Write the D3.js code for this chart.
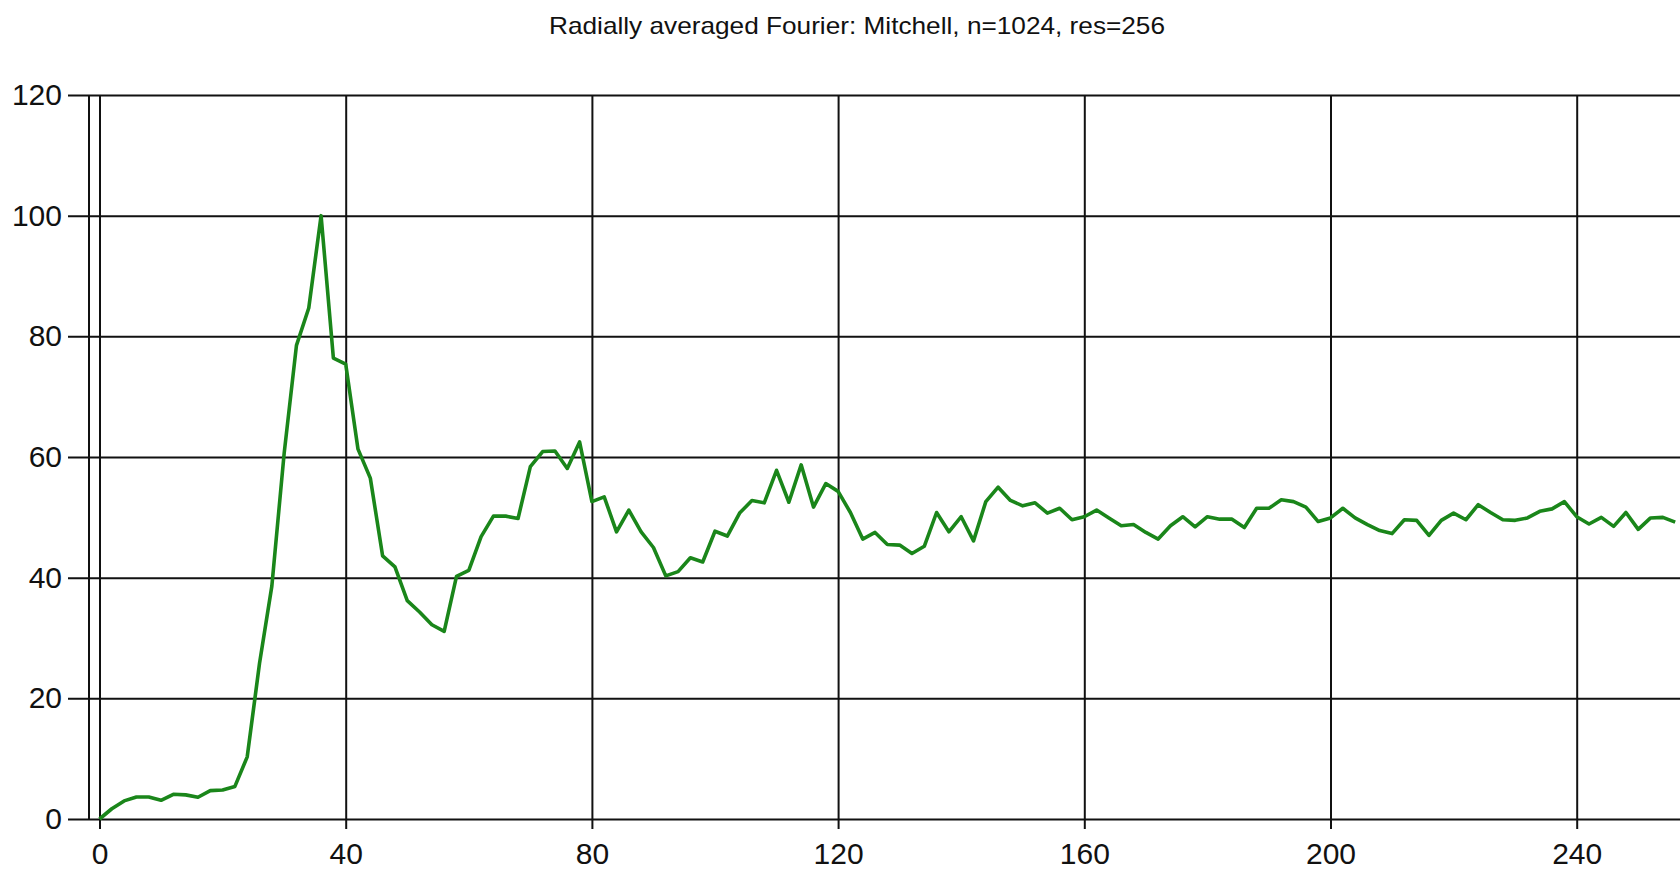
<!DOCTYPE html>
<html>
<head>
<meta charset="utf-8">
<script src="https://cdn.jsdelivr.net/npm/d3@7"></script>
<style>
  html, body { margin: 0; padding: 0; background: #fff; }
  svg { display: block; font-family: "Liberation Sans", Arial, sans-serif; }
</style>
</head>
<body>
<div id="chart"></div>
<script>
const title = "Radially averaged Fourier: Mitchell, n=1024, res=256";

// radius (frequency bin), step 2
const freq = d3.range(0, 257, 2);
// radially averaged power
const power = [
  0, 1.7, 3.0, 3.65, 3.65, 3.1, 4.1, 4.0, 3.6, 4.7,
  4.8, 5.4, 10.3, 25.8, 38.6, 60.6, 78.5, 84.7, 100, 76.4,
  75.4, 61.3, 56.5, 43.6, 41.8, 36.2, 34.3, 32.2, 31.1, 40.2,
  41.2, 46.8, 50.2, 50.2, 49.8, 58.4, 60.9, 61.0, 58.1, 62.5,
  52.6, 53.4, 47.6, 51.2, 47.6, 45.0, 40.3, 41.0, 43.3, 42.6,
  47.7, 46.9, 50.7, 52.8, 52.4, 57.8, 52.5, 58.7, 51.7, 55.6,
  54.3, 50.8, 46.4, 47.5, 45.5, 45.4, 44.0, 45.2, 50.8, 47.6,
  50.1, 46.1, 52.6, 55.0, 52.8, 51.9, 52.4, 50.7, 51.5, 49.6,
  50.1, 51.2, 49.9, 48.6, 48.8, 47.5, 46.4, 48.6, 50.1, 48.4,
  50.1, 49.7, 49.7, 48.3, 51.5, 51.5, 52.9, 52.6, 51.7, 49.3,
  49.9, 51.5, 49.9, 48.8, 47.8, 47.3, 49.6, 49.5, 47.0, 49.5,
  50.7, 49.6, 52.1, 50.8, 49.6, 49.5, 49.9, 51.0, 51.4, 52.6,
  50.1, 48.9, 50.0, 48.5, 50.8, 48.0, 49.9, 50.0, 49.2
];

const xTicks = [0, 40, 80, 120, 160, 200, 240];
const yTicks = [0, 20, 40, 60, 80, 100, 120];

const data = freq.map((f, i) => ({ f: f, p: power[i] }));

const width = 1680;
const height = 870;
const margin = { top: 95, right: 0, bottom: 51, left: 89 };

const x = d3.scaleLinear()
  .domain([0, 240])
  .range([99.5, 1576.7]);

const y = d3.scaleLinear()
  .domain([0, 120])
  .range([height - margin.bottom, margin.top]);

const svg = d3.select("#chart")
  .append("svg")
  .attr("width", width)
  .attr("height", height);

svg.append("text")
  .attr("x", 857)
  .attr("y", 34)
  .attr("text-anchor", "middle")
  .attr("font-size", 24)
  .attr("textLength", 616)
  .attr("lengthAdjust", "spacingAndGlyphs")
  .attr("fill", "#111")
  .text(title);

// horizontal grid + left ticks
const yAxis = g => g
  .attr("transform", `translate(${margin.left},0)`)
  .call(d3.axisLeft(y)
    .tickValues(yTicks)
    .tickSize(-(width - margin.left))
    .tickPadding(6)
    .tickSizeOuter(0))
  .call(g => g.select(".domain").remove())
  .call(g => g.selectAll(".tick line")
    .attr("x1", -21)
    .attr("stroke", "#111")
    .attr("stroke-width", 2))
  .call(g => g.selectAll(".tick text")
    .attr("x", -27)
    .attr("font-size", 30)
    .attr("fill", "#111"));

// vertical grid + bottom ticks
const xAxis = g => g
  .attr("transform", `translate(0,${y(0)})`)
  .call(d3.axisBottom(x)
    .tickValues(xTicks)
    .tickSizeOuter(0))
  .call(g => g.select(".domain").remove())
  .call(g => g.selectAll(".tick line")
    .attr("y1", -(y(0) - margin.top))
    .attr("y2", 10)
    .attr("stroke", "#111")
    .attr("stroke-width", 2))
  .call(g => g.selectAll(".tick text")
    .attr("y", 24)
    .attr("font-size", 30)
    .attr("fill", "#111"));

svg.append("g").attr("class", "y-axis").call(yAxis);
svg.append("g").attr("class", "x-axis").call(xAxis);

// left axis line
svg.append("line")
  .attr("x1", margin.left).attr("x2", margin.left)
  .attr("y1", margin.top).attr("y2", y(0))
  .attr("stroke", "#111")
  .attr("stroke-width", 2);

const line = d3.line()
  .x(d => x(d.f))
  .y(d => y(d.p));

svg.append("path")
  .datum(data)
  .attr("fill", "none")
  .attr("stroke", "#1a861a")
  .attr("stroke-width", 3.6)
  .attr("stroke-linejoin", "round")
  .attr("d", line);
</script>
</body>
</html>
